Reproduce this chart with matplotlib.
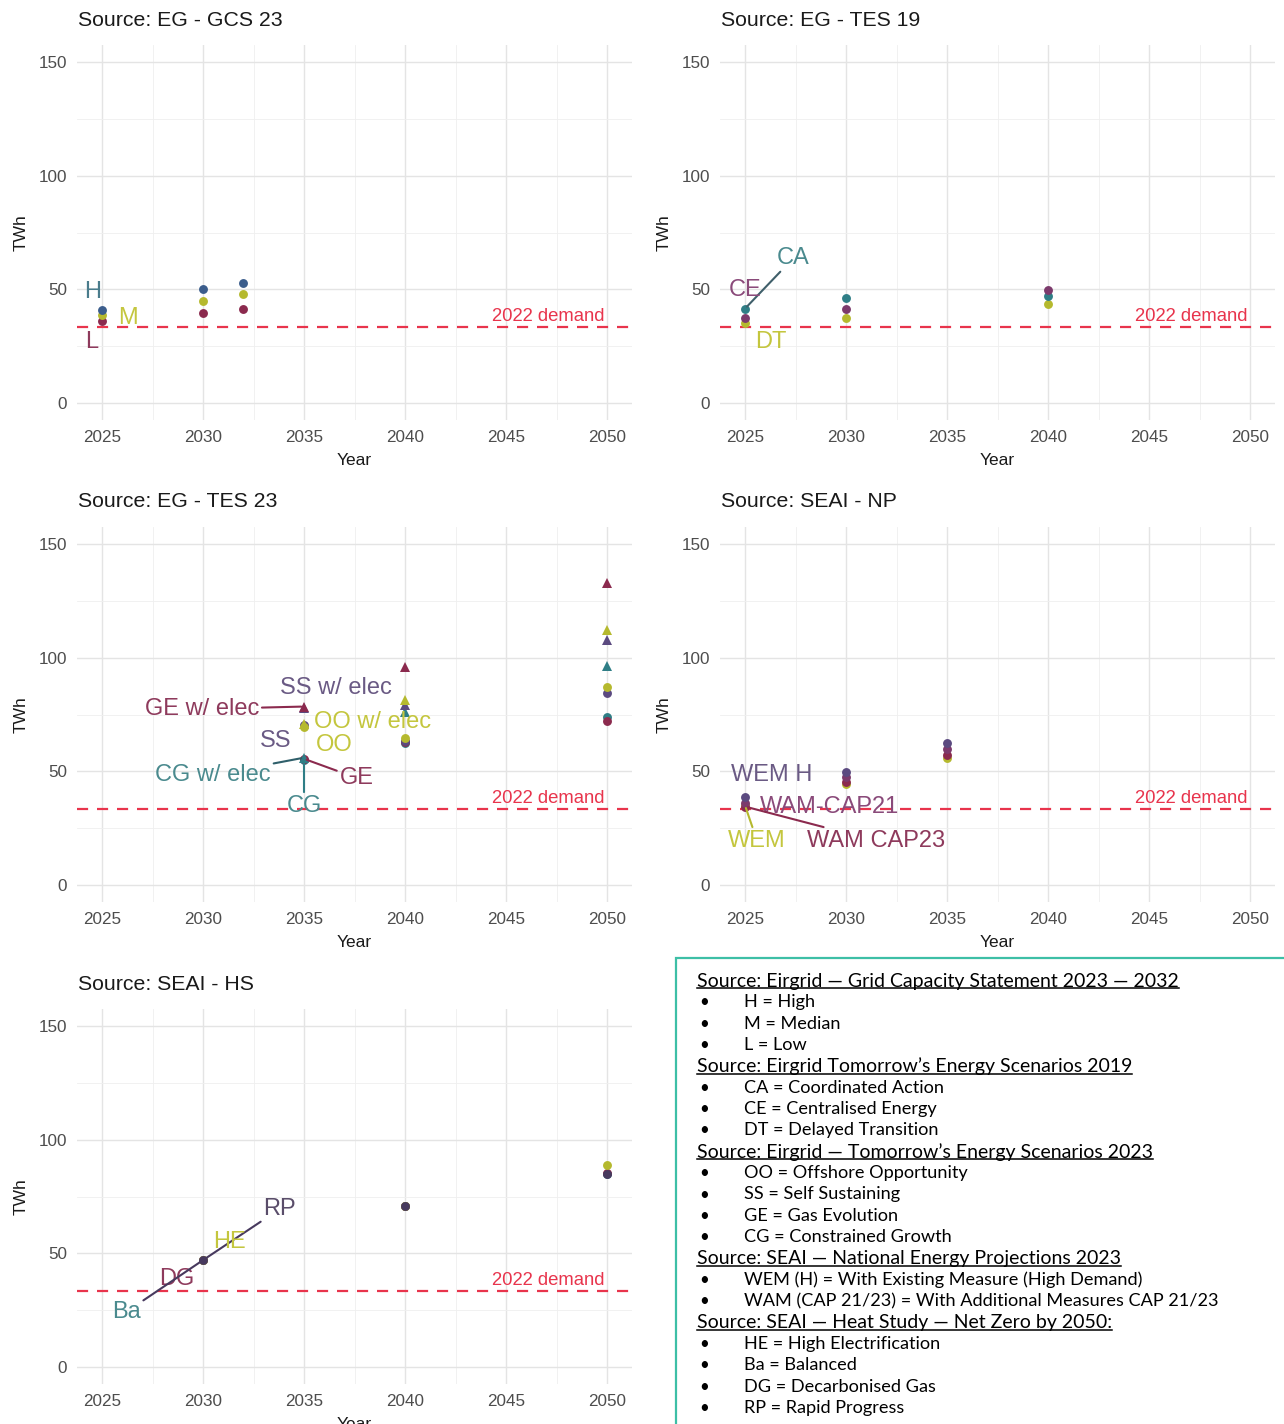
import matplotlib
matplotlib.use("Agg")
import matplotlib.pyplot as plt
from matplotlib.lines import Line2D
from matplotlib.patches import Rectangle
from matplotlib.ticker import MultipleLocator

# ---------------- data (TWh) ----------------
demand_2022 = 33.5

gcs_years = [2025, 2030, 2032]
gcs_high = [41.0, 50.0, 53.0]
gcs_median = [38.5, 45.0, 48.0]
gcs_low = [36.0, 39.5, 41.5]

tes19_years = [2025, 2030, 2040]
tes19_ca = [41.5, 46.0, 47.0]
tes19_ce = [37.5, 41.5, 49.5]
tes19_dt = [35.0, 37.5, 43.5]

tes23_years = [2035, 2040, 2050]
tes23_oo = [69.5, 64.5, 87.0]
tes23_oo_elec = [71.0, 81.5, 112.0]
tes23_ss = [70.5, 63.5, 84.5]
tes23_ss_elec = [78.0, 79.0, 108.0]
tes23_ge = [55.5, 63.0, 72.0]
tes23_ge_elec = [78.5, 96.0, 133.0]
tes23_cg = [55.0, 62.5, 74.0]
tes23_cg_elec = [56.0, 76.0, 96.5]

np_years = [2025, 2030, 2035]
np_wem_h = [38.5, 49.5, 62.5]
np_wam_cap21 = [36.0, 47.5, 60.0]
np_wam_cap23 = [34.5, 45.5, 57.0]
np_wem = [35.0, 44.5, 56.0]

hs_years = [2030, 2040, 2050]
hs_he = [47.0, 71.0, 89.0]
hs_ba = [47.0, 71.0, 85.0]
hs_dg = [47.0, 71.0, 85.5]
hs_rp = [47.0, 71.0, 85.0]

x_ticks = [2025, 2030, 2035, 2040, 2045, 2050]
y_ticks = [0, 50, 100, 150]

# ---------------- styling ----------------
W, H = 1284, 1424
DPI = 100
FONT = "Liberation Sans"

MAROON = "#8b2a4e"
PURPLE = "#5b4a80"
PLUM = "#7c3a6c"
TEAL = "#2f7e86"
YELLOW = "#b5b92e"
BLUE = "#3b5d8c"
DARK = "#47395e"

LBL = {MAROON: "#8e3a5c", PURPLE: "#6a5a84", PLUM: "#8a4a7a", TEAL: "#4a8a8e",
       YELLOW: "#c4c63e", BLUE: "#4a7c8c", DARK: "#5a4d6a"}

RED = "#e8344c"

plt.rcParams["font.family"] = [FONT, "DejaVu Sans"]

fig = plt.figure(figsize=(W / DPI, H / DPI), dpi=DPI)


def px_rect(x0, y0, x1, y1):
    return [x0 / W, 1 - y1 / H, (x1 - x0) / W, (y1 - y0) / H]


def make_panel(x0, y0, title):
    ax = fig.add_axes(px_rect(x0, y0, x0 + 555.5, y0 + 375))
    ax.set_xlim(2023.75, 2051.25)
    ax.set_ylim(-7.5, 157.5)
    ax.set_xticks(x_ticks)
    ax.set_yticks(y_ticks)
    ax.xaxis.set_minor_locator(MultipleLocator(2.5))
    ax.yaxis.set_minor_locator(MultipleLocator(25))
    ax.grid(which="major", color="#e4e4e4", lw=1.0)
    ax.grid(which="minor", color="#efefef", lw=0.6)
    ax.set_axisbelow(True)
    for s in ax.spines.values():
        s.set_visible(False)
    ax.tick_params(which="both", length=0, labelsize=12.3, labelcolor="#4d4d4d", pad=7)
    ax.set_xlabel("Year", fontsize=12.5, color="#1a1a1a", labelpad=6)
    ax.set_ylabel("TWh", fontsize=12.5, color="#1a1a1a", labelpad=7)
    ax.axhline(demand_2022, color=RED, lw=1.6, ls=(0, (5, 4)), zorder=1)
    ax.text(2049.9, demand_2022 + 1.0, "2022 demand", color=RED, fontsize=13.3,
            ha="right", va="bottom")
    fig.text((x0 + 1) / W, 1 - (y0 - 25) / H, title, fontsize=15.3, color="#1a1a1a",
             ha="left", va="center")
    return ax


def dots(ax, years, vals, color, marker="o", size=6.4):
    ax.plot(years, vals, ls="none", marker=marker, ms=size, color=color,
            markeredgewidth=0, zorder=3)


def label(ax, text, color, xy_text, point=None, seg_color=None):
    kw = dict(fontsize=17, color=LBL[color], ha="center", va="center", zorder=4)
    if point is None:
        ax.text(xy_text[0], xy_text[1], text, **kw)
    else:
        ax.annotate(text, xy=point, xytext=xy_text,
                    arrowprops=dict(arrowstyle="-", color=seg_color or color, lw=1.5,
                                    shrinkA=0, shrinkB=2), **kw)


# ---- EG - GCS 23 ----
ax1 = make_panel(76.75, 45, "Source: EG - GCS 23")
dots(ax1, gcs_years, gcs_low, MAROON)
dots(ax1, gcs_years, gcs_median, YELLOW)
dots(ax1, gcs_years, gcs_high, BLUE)
label(ax1, "H", BLUE, (2024.55, 48.8))
label(ax1, "M", YELLOW, (2026.3, 37.4))
label(ax1, "L", MAROON, (2024.5, 26.8))

# ---- EG - TES 19 ----
ax2 = make_panel(719.75, 45, "Source: EG - TES 19")
dots(ax2, tes19_years, tes19_dt, YELLOW)
dots(ax2, tes19_years, tes19_ca, TEAL)
dots(ax2, tes19_years, tes19_ce, PLUM)
label(ax2, "CA", TEAL, (2027.4, 63.8), point=(tes19_years[0], tes19_ca[0]), seg_color="#3f5f6a")
label(ax2, "CE", PLUM, (2025.0, 49.7))
label(ax2, "DT", YELLOW, (2026.3, 26.8))

# ---- EG - TES 23 ----
ax3 = make_panel(76.75, 527, "Source: EG - TES 23")
for vals, col in [(tes23_cg, TEAL), (tes23_ge, MAROON), (tes23_ss, PURPLE), (tes23_oo, YELLOW)]:
    dots(ax3, tes23_years, vals, col)
for vals, col in [(tes23_cg_elec, TEAL), (tes23_ss_elec, PURPLE), (tes23_oo_elec, YELLOW),
                  (tes23_ge_elec, MAROON)]:
    dots(ax3, tes23_years, vals, col, marker="^", size=7)
label(ax3, "SS w/ elec", PURPLE, (2036.6, 86.7))
label(ax3, "GE w/ elec", MAROON, (2029.95, 77.4), point=(tes23_years[0], tes23_ge_elec[0]))
label(ax3, "OO w/ elec", YELLOW, (2038.4, 71.7))
label(ax3, "SS", PURPLE, (2033.6, 63.4))
label(ax3, "OO", YELLOW, (2036.5, 61.6))
label(ax3, "CG w/ elec", TEAL, (2030.5, 48.4), point=(tes23_years[0], tes23_cg_elec[0]),
      seg_color="#2f5f6a")
label(ax3, "GE", MAROON, (2037.6, 47.1), point=(tes23_years[0], tes23_ge[0]))
label(ax3, "CG", TEAL, (2035.0, 34.8), point=(tes23_years[0], tes23_cg[0]))

# ---- SEAI - NP ----
ax4 = make_panel(719.75, 527, "Source: SEAI - NP")
dots(ax4, np_years, np_wem, YELLOW)
dots(ax4, np_years, np_wam_cap23, MAROON)
dots(ax4, np_years, np_wam_cap21, PLUM)
dots(ax4, np_years, np_wem_h, PURPLE)
label(ax4, "WEM H", PURPLE, (2026.3, 48.4))
label(ax4, "WAM-CAP21", PLUM, (2029.2, 34.3))
label(ax4, "WAM CAP23", MAROON, (2031.5, 19.4), point=(np_years[0], np_wam_cap23[0]))
label(ax4, "WEM", YELLOW, (2025.6, 19.4), point=(np_years[0], np_wem[0]))

# ---- SEAI - HS ----
ax5 = make_panel(76.75, 1009, "Source: SEAI - HS")
dots(ax5, hs_years, hs_ba, TEAL)
dots(ax5, hs_years, hs_dg, MAROON)
dots(ax5, hs_years, hs_he, YELLOW)
dots(ax5, hs_years, hs_rp, DARK)
label(ax5, "RP", DARK, (2033.8, 69.5), point=(hs_years[0], hs_rp[0]))
label(ax5, "HE", YELLOW, (2031.3, 55.0))
label(ax5, "DG", MAROON, (2028.7, 38.7))
label(ax5, "Ba", TEAL, (2026.2, 24.2), point=(hs_years[0], hs_ba[0]), seg_color=DARK)

# ---------------- scenario key ----------------
fig.patches.append(Rectangle((676 / W, -0.01), (W - 676 + 10) / W, 0.01 + (H - 958) / H,
                             transform=fig.transFigure, fill=False, edgecolor="#3dbfa6",
                             lw=1.6, zorder=5))

key_lines = [
    ("head", "Source: Eirgrid \u2014 Grid Capacity Statement 2023 \u2014 2032"),
    ("item", "H = High"),
    ("item", "M = Median"),
    ("item", "L = Low"),
    ("head", "Source: Eirgrid Tomorrow\u2019s Energy Scenarios 2019"),
    ("item", "CA = Coordinated Action"),
    ("item", "CE = Centralised Energy"),
    ("item", "DT = Delayed Transition"),
    ("head", "Source: Eirgrid \u2014 Tomorrow\u2019s Energy Scenarios 2023"),
    ("item", "OO = Offshore Opportunity"),
    ("item", "SS = Self Sustaining"),
    ("item", "GE = Gas Evolution"),
    ("item", "CG = Constrained Growth"),
    ("head", "Source: SEAI \u2014 National Energy Projections 2023"),
    ("item", "WEM (H) = With Existing Measure (High Demand)"),
    ("item", "WAM (CAP 21/23) = With Additional Measures CAP 21/23"),
    ("head", "Source: SEAI \u2014 Heat Study \u2014 Net Zero by 2050:"),
    ("item", "HE = High Electrification"),
    ("item", "Ba = Balanced"),
    ("item", "DG = Decarbonised Gas"),
    ("item", "RP = Rapid Progress"),
]

KEY_FONT = ["Lato", "DejaVu Sans"]
HEAD_SIZE = 14.0
ITEM_SIZE = 13.1
renderer = fig.canvas.get_renderer()
heads = []
for i, (kind, txt) in enumerate(key_lines):
    yc = 981 + i * 21.35
    if kind == "head":
        t = fig.text(697 / W, 1 - yc / H, txt, family=KEY_FONT, fontsize=HEAD_SIZE,
                     color="black", ha="left", va="center")
        heads.append(t)
    else:
        fig.text(699 / W, 1 - yc / H, "\u2022", family=KEY_FONT, fontsize=ITEM_SIZE - 1,
                 color="black", ha="left", va="center")
        fig.text(744 / W, 1 - yc / H, txt, family=KEY_FONT, fontsize=ITEM_SIZE,
                 color="black", ha="left", va="center")

# underline the source headings
for t in heads:
    bb = t.get_window_extent(renderer)
    yline = bb.y0 + 1.5
    fig.lines.append(Line2D([bb.x0 / W, bb.x1 / W], [yline / H, yline / H],
                            transform=fig.transFigure, color="black", lw=1.1))

fig.savefig("out.png", dpi=DPI, facecolor="white")
